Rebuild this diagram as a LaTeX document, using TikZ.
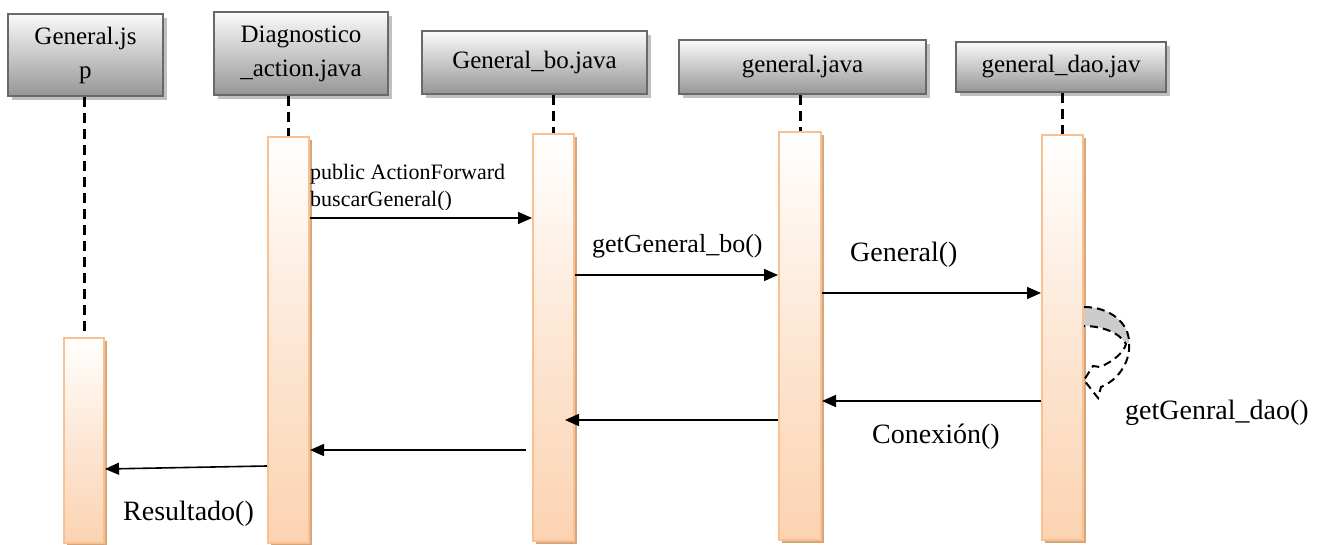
\documentclass[tikz,border=0pt]{standalone}
\usepackage{fontspec}
\setmainfont{Liberation Serif}
\usetikzlibrary{arrows.meta,shadows,calc}

\definecolor{hdrborder}{RGB}{105,105,105}
\definecolor{hdrtop}{RGB}{250,250,250}
\definecolor{hdrbottom}{RGB}{150,150,150}
\definecolor{hdrshadow}{RGB}{192,192,192}
\definecolor{barborder}{RGB}{250,192,143}
\definecolor{barbottom}{RGB}{251,211,178}
\definecolor{barshadow}{RGB}{214,166,126}
\definecolor{selffill}{RGB}{204,204,204}

\begin{document}
\begin{tikzpicture}[x=1pt,y=-1pt,
  header/.style={draw=hdrborder, line width=2pt, top color=hdrtop, bottom color=hdrbottom,
    drop shadow={shadow xshift=4pt, shadow yshift=-4pt, fill=hdrshadow, opacity=1},
    inner sep=0pt, align=center, font=\fontsize{25}{34}\selectfont},
  bar/.style={draw=barborder, line width=2pt, top color=white, bottom color=barbottom,
    middle color=barbottom!55, minimum width=41pt,
    drop shadow={shadow xshift=3pt, shadow yshift=-3pt, fill=barshadow, opacity=1},
    inner sep=0pt},
  lifeline/.style={line width=3pt, dash pattern=on 10pt off 6pt},
  msg/.style={line width=1.6pt, -{Triangle[length=14pt,width=12pt]}},
  lbl/.style={anchor=base west, inner sep=0pt, font=\fontsize{28}{34}\selectfont},
  selfdash/.style={line width=2pt, dash pattern=on 8pt off 5pt},
]
\useasboundingbox (0,0) rectangle (1318,545);

% object headers
\node[header, minimum width=155pt, minimum height=82pt] (hA) at (85.5,55) {General.js\\p};
\node[header, minimum width=174pt, minimum height=83pt] (hB) at (301,53.5) {Diagnostico\\\_action.java};
\node[header, minimum width=225pt, minimum height=63pt] (hC) at (534.5,62.5) {General\_bo.java};
\node[header, minimum width=247pt, minimum height=54pt] (hD) at (802.5,67) {general.java};
\node[header, minimum width=210pt, minimum height=50pt] (hE) at (1061,67) {general\_dao.jav};

% activation bars
\node[bar, minimum width=40pt, minimum height=205pt] (bA) at (84,440.5) {};
\node[bar, minimum height=406pt] (bB) at (288.5,340) {};
\node[bar, minimum height=407pt] (bC) at (553.5,337.5) {};
\node[bar, minimum width=42pt, minimum height=408pt] (bD) at (800,336) {};
\node[bar, minimum height=405pt] (bE) at (1062.5,337.5) {};

% lifelines
\draw[lifeline] (hA.south -| bA.north) -- (bA.north);
\draw[lifeline] (hB.south -| bB.north) -- (bB.north);
\draw[lifeline] (hC.south -| bC.north) -- (bC.north);
\draw[lifeline] (hD.south -| bD.north) -- (bD.north);
\draw[lifeline] (hE.south -| bE.north) -- (bE.north);

% message heights
\coordinate (y1) at (0,218);
\coordinate (y2) at (0,275);
\coordinate (y3) at (0,293);
\coordinate (y5) at (0,401);
\coordinate (y6) at (0,420);
\coordinate (y7) at (0,450);
\coordinate (y8a) at (0,466);
\coordinate (y8b) at (0,469);

% messages
\draw[msg] (bB.east |- y1) -- (bC.west |- y1);
\draw[msg] (bC.east |- y2) -- (bD.west |- y2);
\draw[msg] (bD.east |- y3) -- (bE.west |- y3);
\draw[msg] (bE.west |- y5) -- (bD.east |- y5);
\draw[msg] (bD.west |- y6) -- ([xshift=-10pt]bC.east |- y6);
\draw[msg] ([xshift=-6pt]bC.west |- y7) -- (bB.east |- y7);
\draw[msg] (bB.west |- y8a) -- (bA.east |- y8b);

% self call on general_dao
\begin{scope}[shift={(bE.north east)}]
  \fill[selffill] (0,173) .. controls (27,173) and (45,190) .. (45,208)
    -- (42,210) .. controls (35,198) and (17,192) .. (0,192) -- cycle;
  \draw[selfdash] (0,173) .. controls (27,173) and (45,190) .. (45,208)
    .. controls (47,230) and (32,247) .. (17,253)
    -- (14,264) -- (0,246) -- (9,232) -- (16,233)
    .. controls (30,227) and (40,218) .. (42,210)
    .. controls (35,198) and (17,192) .. (0,192);
\end{scope}

% message labels
\begin{scope}
  \clip (300,150) rectangle (530,210);
  \node[anchor=base west, inner sep=0pt, font=\fontsize{22}{27}\selectfont] (l1a) at (310,180) {public ActionForward};
  \node[anchor=base west, inner sep=0pt, font=\fontsize{22}{27}\selectfont] (l1b) at (310,207) {buscarGeneral()};
\end{scope}
\node[lbl, font=\fontsize{26}{32}\selectfont] (l2) at (592,253) {getGeneral\_bo()};
\node[lbl] (l3) at (850,262) {General()};
\node[lbl] (l4) at (1125,420) {getGenral\_dao()};
\node[lbl] (l5) at (872,443) {Conexión()};
\node[lbl] (l8) at (123,520) {Resultado()};
\end{tikzpicture}
\end{document}
